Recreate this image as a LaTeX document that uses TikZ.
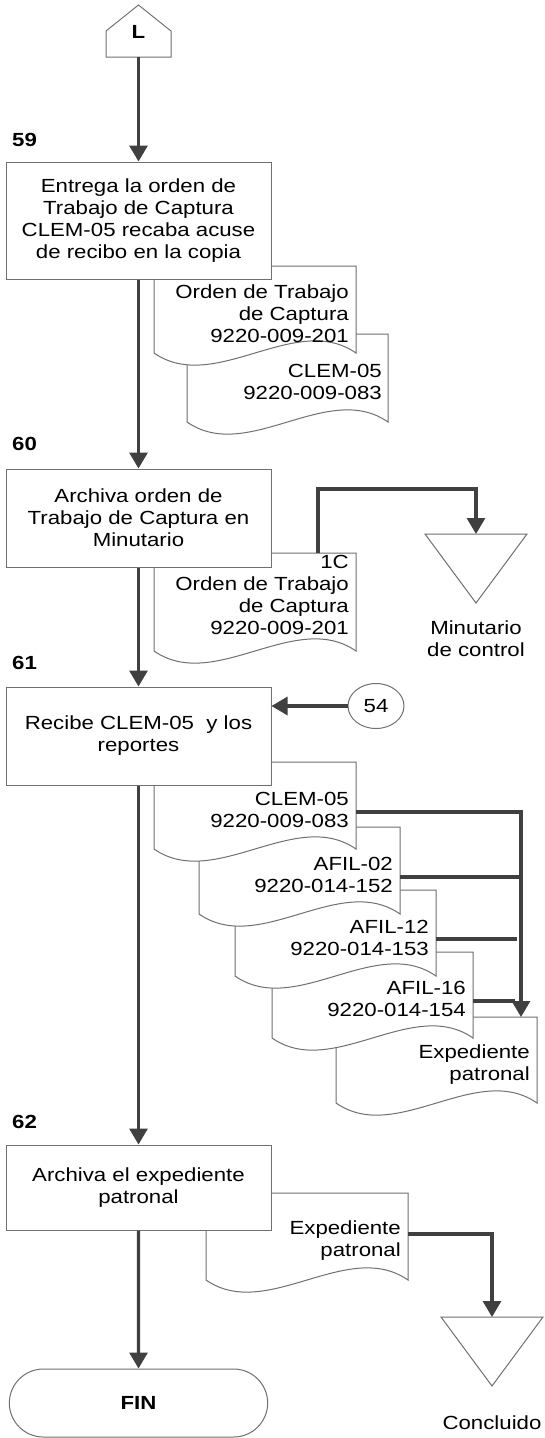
\documentclass[tikz,border=0pt]{standalone}
\usepackage{fontspec}
\setmainfont{Liberation Sans}[FakeStretch=1.17]
\usetikzlibrary{arrows.meta,shapes.misc,shapes.geometric}
\definecolor{linec}{HTML}{707070}
\definecolor{arrowc}{HTML}{404040}
\newcommand\docshape[4]{\draw[thinline,fill=white] (#1,#2) -- ({#1+#3},#2) -- ({#1+#3},{#2+#4}) .. controls ({#1+0.7*#3},{#2+#4-42}) and ({#1+0.3*#3},{#2+#4+42}) .. (#1,{#2+#4}) -- cycle;}
\begin{document}
\begin{tikzpicture}[x=1pt,y=-1pt,
  every node/.style={font=\fontsize{19}{22}\selectfont, text=black},
  thinline/.style={draw=linec, line width=1pt},
  procbox/.style={thinline, fill=white, rectangle, minimum width=265pt, align=center, inner sep=0pt},
  doctext/.style={align=right, anchor=east, inner sep=0pt},
  steplabel/.style={anchor=west, inner sep=0pt, font=\fontsize{19}{22}\selectfont\bfseries},
  heavyline/.style={draw=arrowc, line width=3.2pt},
  flow/.style={heavyline, -{Triangle[length=16pt,width=18pt]}}
]
\fill[white] (0,0) rectangle (544,1438);
\useasboundingbox (0,0) rectangle (544,1438);

% off-page connector L
\draw[thinline] (106,31) -- (138.5,5) -- (171,31) -- (171,57) -- (106,57) -- cycle;
\node[font=\fontsize{19}{22}\selectfont\bfseries] (L) at (138.5,32) {L};
\coordinate (Lb) at (138.5,57);

% step numbers
\node[steplabel] (n59) at (12,140) {59};
\node[steplabel] (n60) at (12,444) {60};
\node[steplabel] (n61) at (12,663) {61};
\node[steplabel] (n62) at (12,1122) {62};

% step 59
\docshape{187}{334}{201}{88}
\node[doctext] (t2) at (382,381.5) {CLEM-05\\9220-009-083};
\docshape{154}{266}{202}{87}
\node[doctext] (t1) at (349,314) {Orden de Trabajo\\de Captura\\9220-009-201};
\node[procbox, minimum height=117pt] (b59) at (138.5,220.5) {Entrega la orden de\\Trabajo de Captura\\CLEM-05 recaba acuse\\de recibo en la copia};

% step 60
\docshape{154}{553}{202}{98}
\node[doctext] (t3) at (349,595) {1C\\Orden de Trabajo\\de Captura\\9220-009-201};
\node[procbox, minimum height=98pt] (b60) at (138.5,518) {Archiva orden de\\Trabajo de Captura en\\Minutario};
\draw[thinline] (425,534) -- (527,534) -- (476,603) -- cycle;
\coordinate (tri1) at (476,534);
\node[align=center] (lab1) at (476,638.5) {Minutario\\de control};

% step 61
\docshape{336}{1017}{201}{86}
\node[doctext] (t8) at (530,1065) {Expediente\\patronal};
\docshape{272}{952}{201}{86}
\node[doctext] (t7) at (466,998.5) {AFIL-16\\9220-014-154};
\docshape{235}{890}{201}{86}
\node[doctext] (t6) at (429,938) {AFIL-12\\9220-014-153};
\docshape{199}{827}{201}{87}
\node[doctext] (t5) at (393,875) {AFIL-02\\9220-014-152};
\docshape{154}{762}{202}{87}
\node[doctext] (t4) at (349,809.5) {CLEM-05\\9220-009-083};
\node[procbox, minimum height=98pt] (b61) at (138.5,736) {Recibe CLEM-05~ y los\\reportes};
\node[thinline, ellipse, minimum width=56pt, minimum height=45pt, inner sep=0pt] (c54) at (376,706) {54};

% step 62
\docshape{206}{1193}{202}{87}
\node[doctext] (t9) at (401,1241) {Expediente\\patronal};
\node[procbox, minimum height=85pt] (b62) at (138.5,1187.5) {Archiva el expediente\\patronal};
\draw[thinline] (441,1317) -- (543,1317) -- (492,1386) -- cycle;
\coordinate (tri2) at (492,1317);
\node (lab2) at (492,1423) {Concluido};

\node[thinline, fill=white, rounded rectangle, minimum width=265pt, minimum height=68pt, font=\fontsize{19}{22}\selectfont\bfseries] (fin) at (138.5,1403) {FIN};

% connectors
\draw[flow] (Lb) -- (b59);
\draw[flow] (b59) -- (b60);
\draw[flow] (b60) -- (b61);
\draw[flow] (b61) -- (b62);
\draw[flow] (b62) -- (fin);
\coordinate (d3top) at (318,553);
\draw[flow] (d3top) -- (318,489) -| (tri1);
\draw[flow] (c54) -- (c54 -| b61.east);
\coordinate (d4r) at (356,812);
\coordinate (d8top) at (521,1017);
\draw[flow] (d4r) -- (d4r -| d8top) -- (d8top);
\coordinate (d5r) at (400,877);
\draw[heavyline] (d5r) -- (d5r -| d8top);
\coordinate (d6r) at (436,939);
\draw[heavyline] (d6r) -- (517,939);
\coordinate (d7r) at (473,1001);
\draw[heavyline] (d7r) -- (515,1001);
\coordinate (d9r) at (408,1234);
\draw[flow] (d9r) -| (tri2);
\end{tikzpicture}
\end{document}
